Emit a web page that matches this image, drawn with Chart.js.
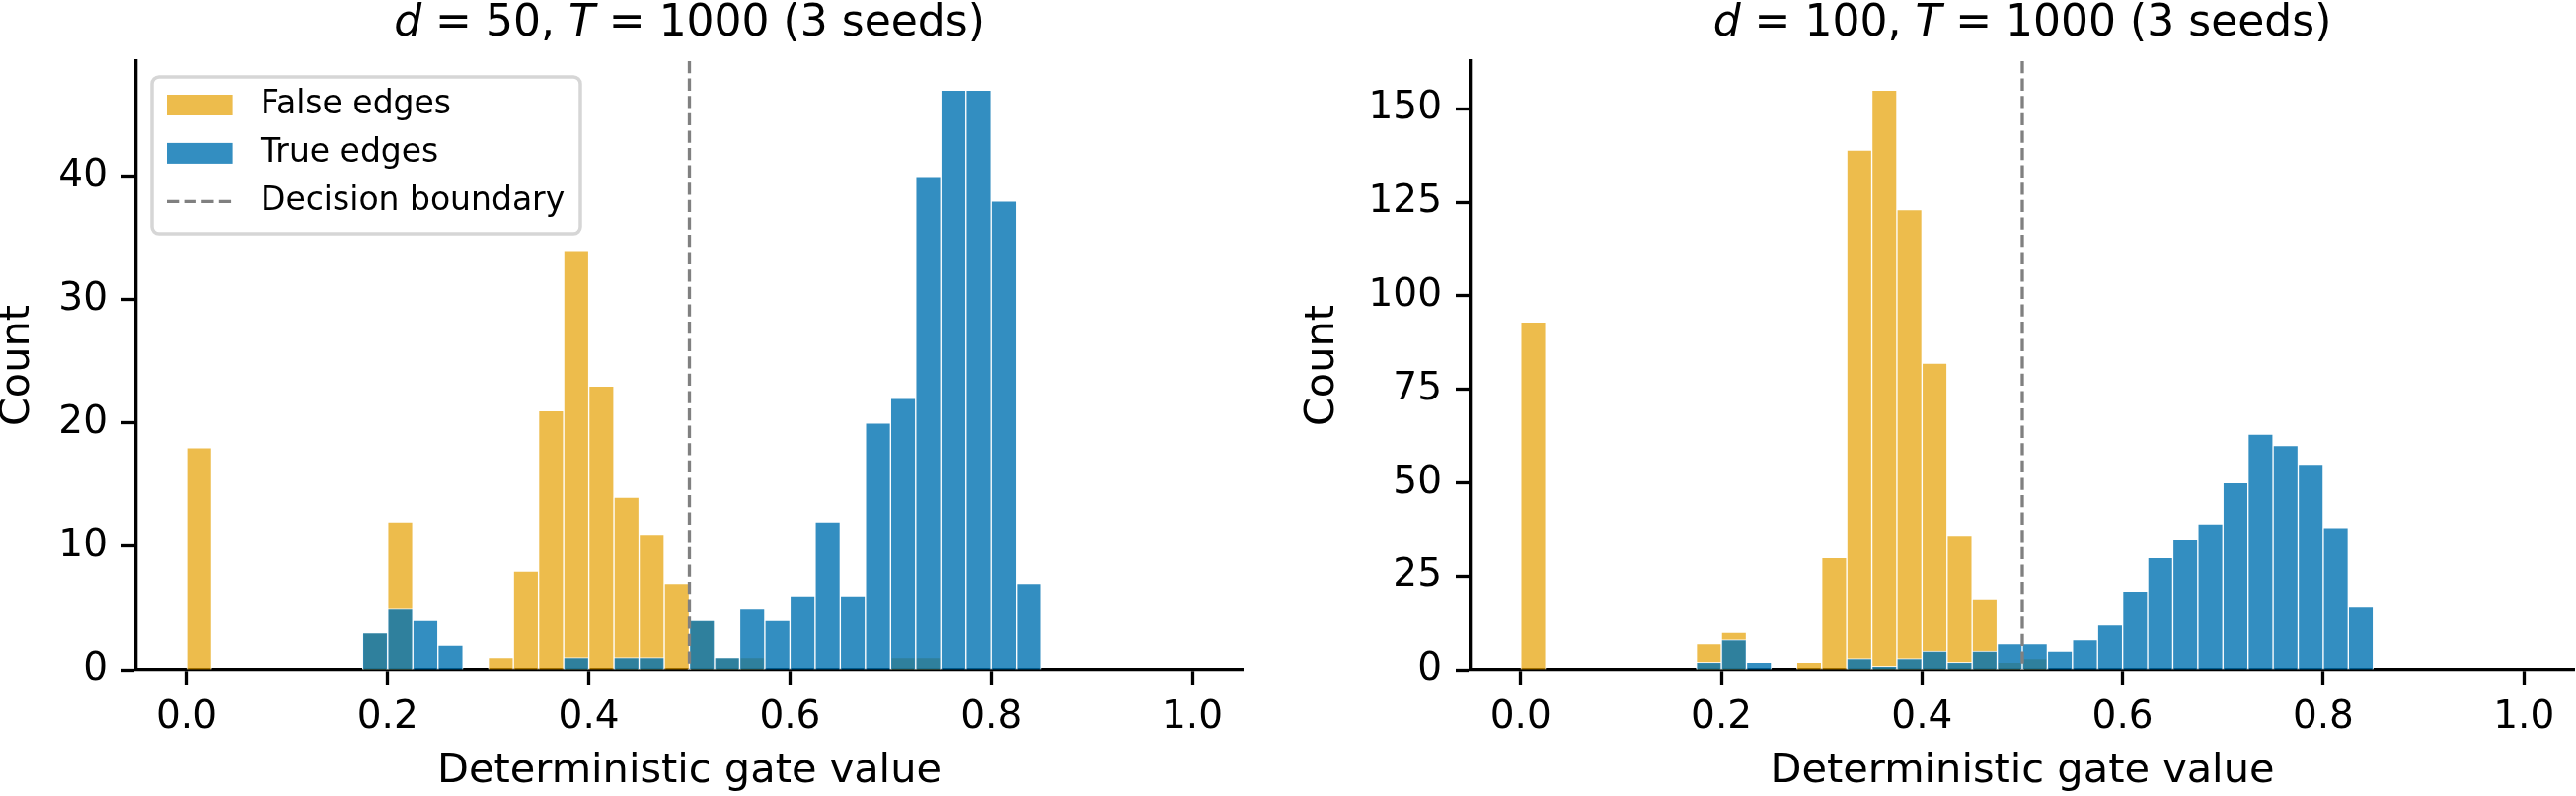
<!DOCTYPE html>
<html>
<head>
<meta charset="utf-8">
<script src="https://cdn.jsdelivr.net/npm/chart.js@4"></script>
<style>
  html, body { margin: 0; padding: 0; background: #fff; }
  #wrap { position: relative; width: 2610px; height: 807px; }
  #left { position: absolute; left: 0; top: 0; }
  #right { position: absolute; left: 1300px; top: 0; }
</style>
</head>
<body>
<div id="wrap">
  <canvas id="left" width="1300" height="807"></canvas>
  <canvas id="right" width="1310" height="807"></canvas>
</div>
<script>
// histogram: 40 bins of width 0.025 over [0, 1]
const binWidth = 0.025;
const binCenters = Array.from({ length: 40 }, (_, i) => (i + 0.5) * binWidth);

// d = 50 counts per bin
const falseD50 = [18,0,0,0,0,0,0,3,12,0, 0,0,1,8,21,34,23,14,11,7, 4,1,1,0,0,0,0,0,1,1, 0,0,0,0,0,0,0,0,0,0];
const trueD50  = [0,0,0,0,0,0,0,3,5,4, 2,0,0,0,0,1,0,1,1,0, 4,1,5,4,6,12,6,20,22,40, 47,47,38,7,0,0,0,0,0,0];

// d = 100 counts per bin
const falseD100 = [93,0,0,0,0,0,0,7,10,0, 0,2,30,139,155,123,82,36,19,2, 3,0,0,0,0,0,0,0,0,0, 0,0,0,0,0,0,0,0,0,0];
const trueD100  = [0,0,0,0,0,0,0,2,8,2, 0,0,0,3,1,3,5,2,5,7, 7,5,8,12,21,30,35,39,50,63, 60,55,38,17,0,0,0,0,0,0];

const decisionBoundary = 0.5;

const xTicks = [0, 0.2, 0.4, 0.6, 0.8, 1.0];
const xTickLabels = ["0.0", "0.2", "0.4", "0.6", "0.8", "1.0"];
const yTicksD50 = [0, 10, 20, 30, 40];
const yTicksD100 = [0, 25, 50, 75, 100, 125, 150];

const titleD50 = [{ text: "d", italic: true }, { text: " = 50, " }, { text: "T", italic: true }, { text: " = 1000 (3 seeds)" }];
const titleD100 = [{ text: "d", italic: true }, { text: " = 100, " }, { text: "T", italic: true }, { text: " = 1000 (3 seeds)" }];

const FALSE_COLOR = "rgba(230, 159, 0, 0.7)";
const TRUE_COLOR = "rgba(0, 114, 178, 0.8)";
const LINE_GRAY = "#808080";
const FONT = '"DejaVu Sans"';

Chart.defaults.font.family = FONT;
Chart.defaults.color = "#000";

function boundaryPlugin() {
  return {
    id: "boundaryLine",
    afterDatasetsDraw(chart) {
      const { ctx, chartArea, scales } = chart;
      const x = scales.x.getPixelForValue(decisionBoundary);
      ctx.save();
      ctx.strokeStyle = LINE_GRAY;
      ctx.lineWidth = 3.3;
      ctx.setLineDash([12.3, 5.3]);
      ctx.beginPath();
      ctx.moveTo(x, chartArea.top);
      ctx.lineTo(x, chartArea.bottom);
      ctx.stroke();
      ctx.restore();
    },
  };
}

function titlePlugin(pieces) {
  return {
    id: "mixedTitle",
    afterDraw(chart) {
      const { ctx, chartArea } = chart;
      const fontFor = (p) => (p.italic ? "italic " : "") + "44px " + FONT;
      ctx.save();
      ctx.fillStyle = "#000";
      ctx.textBaseline = "alphabetic";
      ctx.textAlign = "left";
      let total = 0;
      pieces.forEach((p) => { ctx.font = fontFor(p); total += ctx.measureText(p.text).width; });
      let x = (chartArea.left + chartArea.right) / 2 - total / 2;
      pieces.forEach((p) => {
        ctx.font = fontFor(p);
        ctx.fillText(p.text, x, 36);
        x += ctx.measureText(p.text).width;
      });
      ctx.restore();
    },
  };
}

function legendPlugin() {
  return {
    id: "boxLegend",
    afterDraw(chart) {
      const { ctx, chartArea } = chart;
      const ds = chart.data.datasets;
      const bx = chartArea.left + 16, by = chartArea.top + 16;
      const bw = 434, bh = 159, r = 7;
      ctx.save();
      ctx.beginPath();
      ctx.roundRect(bx, by, bw, bh, r);
      ctx.fillStyle = "rgba(255,255,255,0.8)";
      ctx.fill();
      ctx.lineWidth = 3.5;
      ctx.strokeStyle = "#d6d6d6";
      ctx.stroke();

      const sx = bx + 15, sw = 66.6, tx = bx + 110;
      const rows = [by + 28.5, by + 77.4, by + 126.3];
      ctx.font = "33px " + FONT;
      ctx.textBaseline = "middle";
      ctx.fillStyle = "#000";
      ds.forEach((d, i) => {
        ctx.fillStyle = d.backgroundColor;
        ctx.fillRect(sx, rows[i] - 10.5, sw, 21);
        ctx.fillStyle = "#000";
        ctx.fillText(d.label, tx, rows[i]);
      });
      ctx.strokeStyle = LINE_GRAY;
      ctx.lineWidth = 3.3;
      ctx.setLineDash([12.3, 5.3]);
      ctx.beginPath();
      ctx.moveTo(sx, rows[2]);
      ctx.lineTo(sx + sw, rows[2]);
      ctx.stroke();
      ctx.setLineDash([]);
      ctx.fillStyle = "#000";
      ctx.fillText("Decision boundary", tx, rows[2]);
      ctx.restore();
    },
  };
}

function makeChart(id, falseVals, trueVals, yTicks, title, yAxisWidth, rightPad, yTitlePad, withLegend) {
  const yMax = Math.max(...falseVals, ...trueVals) * 1.05;
  const axisGrid = { display: true, drawOnChartArea: false, drawTicks: true, tickLength: 15, tickWidth: 3.3, tickColor: "#000", offset: false };
  const axisBorder = { display: true, color: "#000", width: 3.3 };
  const plugins = [boundaryPlugin(), titlePlugin(title)];
  if (withLegend) plugins.push(legendPlugin());

  return new Chart(document.getElementById(id), {
    type: "bar",
    data: {
      datasets: [
        {
          label: "False edges",
          data: binCenters.map((x, i) => ({ x, y: falseVals[i] })),
          backgroundColor: FALSE_COLOR,
          borderColor: "rgba(255,255,255,0.7)",
          borderWidth: 1,
          grouped: false,
          barPercentage: 1,
          categoryPercentage: 1,
          order: 2,
        },
        {
          label: "True edges",
          data: binCenters.map((x, i) => ({ x, y: trueVals[i] })),
          backgroundColor: TRUE_COLOR,
          borderColor: "rgba(255,255,255,0.8)",
          borderWidth: 1,
          grouped: false,
          barPercentage: 1,
          categoryPercentage: 1,
          order: 1,
        },
      ],
    },
    options: {
      responsive: false,
      animation: false,
      devicePixelRatio: 1,
      events: [],
      layout: { padding: { left: 0, right: rightPad, top: 62, bottom: 0 } },
      plugins: { legend: { display: false }, tooltip: { enabled: false }, title: { display: false } },
      scales: {
        x: {
          type: "linear",
          min: -0.05,
          max: 1.05,
          offset: false,
          z: 1,
          afterBuildTicks: (s) => { s.ticks = xTicks.map((v) => ({ value: v })); },
          afterFit: (s) => { s.height = 128; },
          grid: axisGrid,
          border: axisBorder,
          ticks: { font: { size: 39 }, color: "#000", padding: 10, autoSkip: false, maxRotation: 0, callback: (v, i) => xTickLabels[i] },
          title: { display: true, text: "Deterministic gate value", color: "#000", font: { size: 41.5, lineHeight: 1.2 }, padding: { top: 0, bottom: 0 } },
        },
        y: {
          min: 0,
          max: yMax,
          z: 1,
          afterBuildTicks: (s) => { s.ticks = yTicks.map((v) => ({ value: v })); },
          afterFit: (s) => { s.width = yAxisWidth; },
          grid: axisGrid,
          border: axisBorder,
          ticks: { font: { size: 39 }, color: "#000", padding: 14, callback: (v) => String(v) },
          title: { display: true, text: "Count", color: "#000", font: { size: 41.5, lineHeight: 0.86 }, padding: { top: yTitlePad, bottom: 0 } },
        },
      },
    },
    plugins,
  });
}

makeChart("left", falseD50, trueD50, yTicksD50, titleD50, 138, 41, 0, true);
makeChart("right", falseD100, trueD100, yTicksD100, titleD100, 190, 2, 22.6, false);
</script>
</body>
</html>
